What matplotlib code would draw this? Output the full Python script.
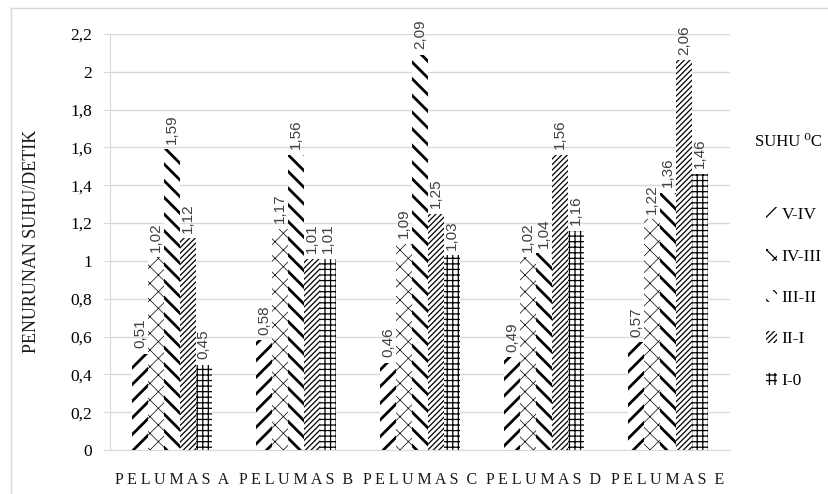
import matplotlib
matplotlib.use("Agg")
import matplotlib.pyplot as plt
import matplotlib.patches as mpatches
from matplotlib.lines import Line2D
import numpy as np

# ── data ──────────────────────────────────────────────────────────────────
lubricants = ["PELUMAS A", "PELUMAS B", "PELUMAS C", "PELUMAS D", "PELUMAS E"]
stages     = ["V-IV", "IV-III", "III-II", "II-I", "I-0"]

v_iv    = [0.51, 0.58, 0.46, 0.49, 0.57]
iv_iii  = [1.02, 1.17, 1.09, 1.02, 1.22]
iii_ii  = [1.59, 1.56, 2.09, 1.04, 1.36]
ii_i    = [1.12, 1.01, 1.25, 1.56, 2.06]
i_0     = [0.45, 1.01, 1.03, 1.16, 1.46]
series  = [v_iv, iv_iii, iii_ii, ii_i, i_0]

yticks  = [0, 0.2, 0.4, 0.6, 0.8, 1.0, 1.2, 1.4, 1.6, 1.8, 2.0, 2.2]

# hatch style per stage: (pattern, hatch line width)
hatch_styles = [("//", 2.0), ("xx", 0.5), ("\\\\", 2.0), ("//////", 0.9), ("+++", 0.9)]

SERIF = ["Liberation Serif", "DejaVu Serif"]
SANS  = ["Liberation Sans", "DejaVu Sans"]
GRID  = "#d9d9d9"

def fmt(v):
    s = f"{v:.2f}".rstrip("0").rstrip(".")
    return s.replace(".", ",")

W, H = 829, 494
fig = plt.figure(figsize=(W / 100, H / 100), dpi=100)
ax = fig.add_axes([110 / W, 44 / H, 620 / W, 416 / H])

x = np.arange(len(lubricants))
width = 0.128

handles = []
for j, (vals, name) in enumerate(zip(series, stages)):
    pattern, hlw = hatch_styles[j]
    plt.rcParams["hatch.linewidth"] = hlw
    bars = ax.bar(x + (j - 2) * width, vals, width, color="white",
                  edgecolor="black", linewidth=0, hatch=pattern, label=name)
    for b in bars:
        if hasattr(b, "set_hatch_linewidth"):
            b.set_hatch_linewidth(hlw)
    # small legend swatch with the same hatch
    sw = mpatches.Patch(facecolor="white", edgecolor="black", linewidth=0,
                        hatch=pattern, label=name)
    if hasattr(sw, "set_hatch_linewidth"):
        sw.set_hatch_linewidth(hlw)
    handles.append(sw)
    for b, v in zip(bars, vals):
        ax.annotate(fmt(v), (b.get_x() + b.get_width() / 2, v),
                    xytext=(0, 4), textcoords="offset points",
                    rotation=90, ha="center", va="bottom",
                    fontsize=11, color="#404040", family=SANS)

ax.set_xlim(-0.5, len(lubricants) - 0.5)
ax.set_ylim(0, 2.2)
ax.set_yticks(yticks)
ax.set_yticklabels([fmt(t) for t in yticks], family=SERIF, fontsize=12.5)
ax.set_xticks(x)
ax.set_xticklabels([" ".join(lbl.replace(" ", "")[:-1]) + "  " + lbl[-1]
                    for lbl in lubricants],
                   family=SERIF, fontsize=11.5, color="#1a1a1a")
ax.tick_params(axis="y", length=5, color=GRID, pad=8)
ax.tick_params(axis="x", length=0, pad=16)

ax.yaxis.grid(True, color=GRID, linewidth=1)
ax.set_axisbelow(True)
for side in ["top", "right"]:
    ax.spines[side].set_visible(False)
ax.spines["left"].set_color(GRID)
ax.spines["bottom"].set_color(GRID)

ax.set_ylabel("PENURUNAN SUHU/DETIK", family=SERIF, fontsize=13,
              color="#1a1a1a", labelpad=22)
ax.yaxis.set_label_coords(-(110 - 40) / 620, (494 - 241 - 44) / 416)

# legend on the right
fig.text(755 / W, 1 - 142 / H, "SUHU \u2070C", family=SERIF, fontsize=12,
         va="center", ha="left")
fig.legend(handles=handles, labels=stages, loc="center left",
           bbox_to_anchor=(757 / W, 1 - 298 / H), frameon=False,
           prop={"family": "Liberation Serif", "size": 12.5},
           handlelength=0.65, handleheight=0.7, handletextpad=0.25,
           labelspacing=1.45, borderpad=0)

# surrounding frame of the figure box
fig.add_artist(Line2D([11 / W, 11 / W], [0, 1 - 8 / H],
                      transform=fig.transFigure, color=GRID, linewidth=1))
fig.add_artist(Line2D([11 / W, 1], [1 - 8 / H, 1 - 8 / H],
                      transform=fig.transFigure, color=GRID, linewidth=1))

fig.savefig("out.png", dpi=100)
